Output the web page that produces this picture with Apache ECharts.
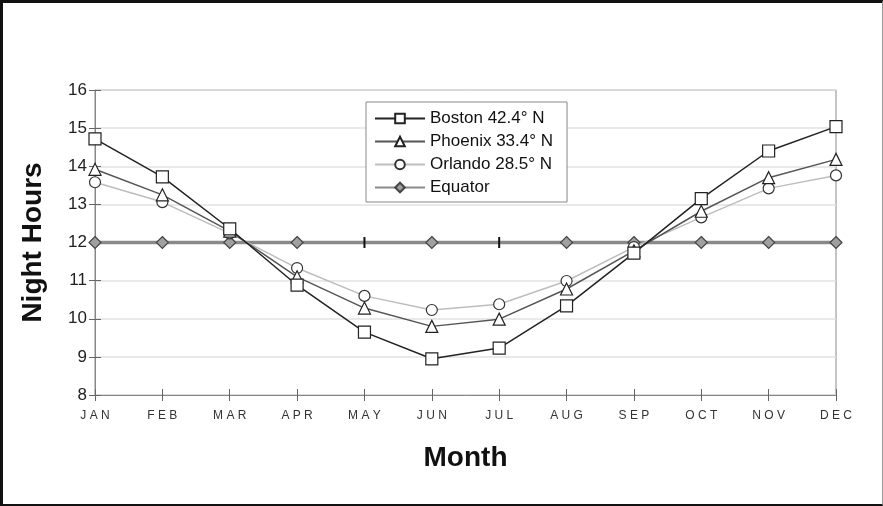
<!DOCTYPE html>
<html>
<head>
<meta charset="utf-8">
<script src="https://cdn.jsdelivr.net/npm/echarts@6/dist/echarts.min.js"></script>
<style>
  html, body { margin: 0; padding: 0; background: #fff; }
  #frame {
    position: absolute; left: 0; top: 0;
    width: 879px; height: 501px;
    border-left: 3px solid #111; border-top: 3px solid #111;
    border-bottom: 2px solid #111; border-right: 1px solid #999;
  }
  #chart { position: absolute; left: 0; top: 0; width: 883px; height: 506px; }
</style>
</head>
<body>
<div id="frame"></div>
<div id="chart"></div>
<script>
// months and night length (hours)
var months = ['JAN', 'FEB', 'MAR', 'APR', 'MAY', 'JUN', 'JUL', 'AUG', 'SEP', 'OCT', 'NOV', 'DEC'];
var boston = [14.72, 13.72, 12.36, 10.88, 9.65, 8.95, 9.23, 10.34, 11.72, 13.15, 14.4, 15.04];
var phoenix = [13.92, 13.25, 12.3, 11.1, 10.28, 9.8, 9.99, 10.78, 11.78, 12.82, 13.7, 14.18];
var orlando = [13.58, 13.06, 12.24, 11.33, 10.6, 10.23, 10.38, 10.99, 11.88, 12.66, 13.42, 13.76];
var equator = [12, 12, 12, 12, 12, 12, 12, 12, 12, 12, 12, 12];
var equatorTicks = ['MAY', 'JUL'];   // these points show as a small bar

var yTicks = { min: 8, max: 16, step: 1 };

var chart = echarts.init(document.getElementById('chart'));

var equatorData = equator.map(function (v, i) {
  if (equatorTicks.indexOf(months[i]) >= 0) {
    return { value: v, symbol: 'rect', symbolSize: [2, 11], itemStyle: { color: '#111', borderWidth: 0 } };
  }
  return v;
});

var font = 'Liberation Sans, Arial, sans-serif';

var option = {
  animation: false,
  textStyle: { fontFamily: font },
  grid: {
    left: 95, right: 47, top: 90, bottom: 111,
    show: true, borderColor: '#888', borderWidth: 1
  },
  legend: {
    orient: 'vertical',
    left: 366, top: 102,
    padding: [8, 14, 6, 8],
    borderColor: '#888', borderWidth: 1,
    backgroundColor: '#fff',
    itemWidth: 50, itemHeight: 12, itemGap: 6,
    textStyle: { fontSize: 17, color: '#111', fontFamily: font },
    data: ['Boston 42.4° N', 'Phoenix 33.4° N', 'Orlando 28.5° N', 'Equator']
  },
  xAxis: [{
    type: 'category',
    data: months,
    boundaryGap: false,
    name: 'Month',
    nameLocation: 'middle',
    nameGap: 49,
    nameTextStyle: { fontSize: 28, fontWeight: 'bold', color: '#111', fontFamily: font },
    axisLine: { lineStyle: { color: '#888' } },
    axisTick: { show: true, length: 6, lineStyle: { color: '#666' } },
    axisLabel: {
      fontSize: 12, color: '#333', margin: 15,
      formatter: function (s) { return s.split('').join(' '); }
    },
    splitLine: { show: false }
  }, {
    type: 'category',
    data: months,
    boundaryGap: false,
    position: 'bottom',
    axisLine: { show: false },
    axisTick: { show: true, inside: true, length: 6, lineStyle: { color: '#666' } },
    axisLabel: { show: false },
    splitLine: { show: false }
  }],
  yAxis: [{
    type: 'value',
    min: yTicks.min, max: yTicks.max, interval: yTicks.step,
    name: 'Night Hours',
    nameLocation: 'middle',
    nameGap: 48,
    nameTextStyle: { fontSize: 28, fontWeight: 'bold', color: '#111', fontFamily: font },
    axisLine: { show: true, lineStyle: { color: '#888' } },
    axisTick: { show: true, length: 6, lineStyle: { color: '#666' } },
    axisLabel: { fontSize: 17, color: '#222', margin: 8 },
    splitLine: { show: true, lineStyle: { color: '#e2e2e2', width: 1.5 } }
  }, {
    type: 'value',
    min: yTicks.min, max: yTicks.max, interval: yTicks.step,
    position: 'left',
    axisLine: { show: false },
    axisTick: { show: true, inside: true, length: 6, lineStyle: { color: '#666' } },
    axisLabel: { show: false },
    splitLine: { show: false }
  }],
  series: [
    {
      name: 'Equator', type: 'line', data: equatorData,
      symbol: 'diamond', symbolSize: 12,
      lineStyle: { color: '#8a8a8a', width: 3.5 },
      itemStyle: { color: '#a0a0a0', borderColor: '#444', borderWidth: 1.2 },
      z: 2
    },
    {
      name: 'Orlando 28.5° N', type: 'line', data: orlando,
      symbol: 'circle', symbolSize: 11,
      lineStyle: { color: '#bdbdbd', width: 1.5 },
      itemStyle: { color: '#fff', borderColor: '#333', borderWidth: 1.2 },
      z: 3
    },
    {
      name: 'Phoenix 33.4° N', type: 'line', data: phoenix,
      symbol: 'triangle', symbolSize: 12,
      lineStyle: { color: '#555', width: 1.5 },
      itemStyle: { color: '#fff', borderColor: '#222', borderWidth: 1.2 },
      z: 4
    },
    {
      name: 'Boston 42.4° N', type: 'line', data: boston,
      symbol: 'rect', symbolSize: 12,
      lineStyle: { color: '#222', width: 1.5 },
      itemStyle: { color: '#fff', borderColor: '#222', borderWidth: 1.2 },
      z: 5
    }
  ]
};
chart.setOption(option);
</script>
</body>
</html>
